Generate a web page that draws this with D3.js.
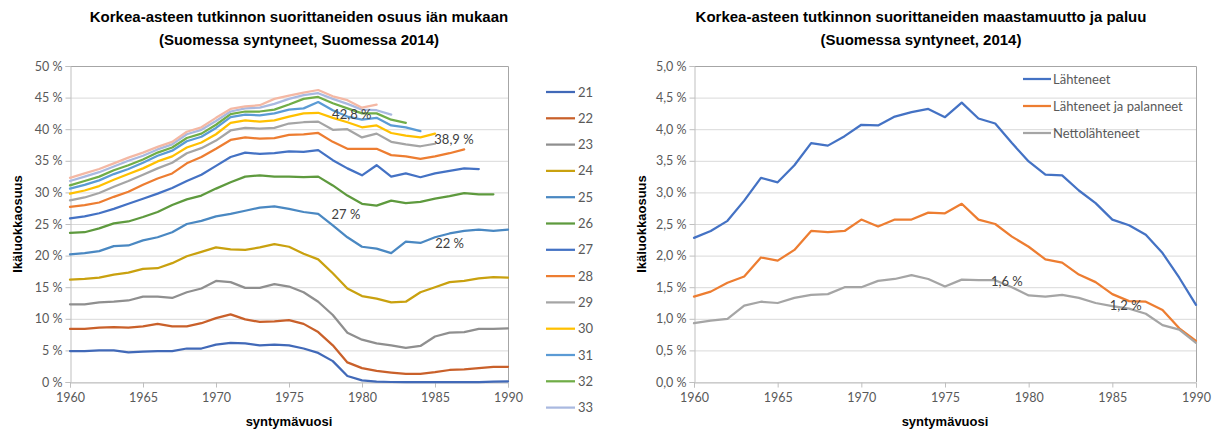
<!DOCTYPE html>
<html>
<head>
<meta charset="utf-8">
<script src="https://cdn.jsdelivr.net/npm/d3@7"></script>
<style>
  body { margin: 0; background: #fff; }
  text { font-family: Lato, "Open Sans", sans-serif; fill: #595959; }
  .title { font-family: "Liberation Sans Narrow", "Liberation Sans", sans-serif; font-weight: bold; fill: #000; font-size: 15px; }
  .axisTitle { font-family: "Liberation Sans Narrow", "Liberation Sans", sans-serif; font-weight: bold; fill: #000; font-size: 13px; }
  .tick text { font-size: 12.5px; fill: #595959; }
  .note { font-size: 13px; fill: #404040; }
  .legend text { font-size: 13px; fill: #595959; }
</style>
</head>
<body>
<div id="chart"></div>
<script>

// first birth year of every series
var firstYear = 1960;

// share of degree holders by age (%), birth years 1960 ->
var ageLabels = ["21", "22", "23", "24", "25", "26", "27", "28", "29", "30", "31", "32", "33", "34"];
var age21 = [4.9, 4.9, 5.0, 5.0, 4.7, 4.8, 4.9, 4.9, 5.3, 5.3, 5.9, 6.2, 6.1, 5.8, 5.9, 5.8, 5.3, 4.6, 3.3, 0.95, 0.25, 0.05, 0.0, 0.0, 0.0, 0.0, 0.0, 0.0, 0.0, 0.05, 0.1];
var age22 = [8.4, 8.4, 8.6, 8.7, 8.6, 8.8, 9.2, 8.8, 8.8, 9.3, 10.1, 10.7, 9.9, 9.5, 9.6, 9.8, 9.2, 7.9, 5.8, 3.1, 2.2, 1.75, 1.5, 1.3, 1.3, 1.55, 1.9, 2.0, 2.2, 2.4, 2.4];
var age23 = [12.3, 12.3, 12.6, 12.7, 12.9, 13.5, 13.5, 13.3, 14.2, 14.8, 16.0, 15.8, 14.9, 14.9, 15.5, 15.1, 14.2, 12.7, 10.6, 7.8, 6.7, 6.1, 5.8, 5.4, 5.7, 7.2, 7.8, 7.9, 8.4, 8.4, 8.5];
var age24 = [16.2, 16.3, 16.5, 17.0, 17.3, 17.9, 18.0, 18.8, 19.9, 20.6, 21.3, 21.0, 20.9, 21.3, 21.8, 21.4, 20.3, 19.4, 17.2, 14.8, 13.6, 13.2, 12.6, 12.7, 14.2, 15.0, 15.8, 16.0, 16.4, 16.6, 16.5];
var age25 = [20.2, 20.4, 20.7, 21.5, 21.6, 22.4, 22.9, 23.7, 25.0, 25.5, 26.2, 26.6, 27.1, 27.6, 27.8, 27.4, 26.9, 26.6, 24.8, 22.9, 21.4, 21.1, 20.4, 22.2, 22.0, 22.9, 23.5, 23.9, 24.1, 23.9, 24.1];
var age26 = [23.6, 23.7, 24.3, 25.1, 25.4, 26.1, 26.9, 28.0, 28.9, 29.5, 30.6, 31.6, 32.5, 32.7, 32.5, 32.5, 32.4, 32.5, 31.1, 29.5, 28.2, 27.9, 28.7, 28.3, 28.5, 29.0, 29.4, 29.9, 29.7, 29.7];
var age27 = [25.9, 26.2, 26.7, 27.4, 28.2, 29.0, 29.8, 30.7, 31.8, 32.8, 34.2, 35.6, 36.3, 36.1, 36.2, 36.5, 36.4, 36.7, 35.1, 33.8, 32.7, 34.3, 32.5, 33.0, 32.4, 33.0, 33.4, 33.8, 33.7];
var age28 = [27.7, 28.0, 28.4, 29.3, 30.1, 31.2, 32.2, 33.0, 34.6, 35.6, 36.9, 38.3, 38.7, 38.5, 38.6, 39.1, 39.2, 39.4, 38.0, 36.9, 36.9, 36.9, 35.9, 35.7, 35.3, 35.7, 36.2, 36.8];
var age29 = [28.75, 29.2, 29.9, 30.9, 31.8, 32.8, 33.8, 34.7, 36.2, 37.0, 38.2, 39.8, 40.2, 40.1, 40.2, 40.9, 41.1, 41.2, 39.9, 40.0, 38.7, 39.3, 38.0, 37.6, 37.3, 37.7];
var age30 = [29.8, 30.3, 31.0, 32.0, 32.9, 33.8, 34.9, 35.7, 37.1, 37.9, 39.2, 41.0, 41.4, 41.2, 41.4, 42.0, 42.5, 42.6, 41.8, 41.1, 40.3, 40.6, 39.4, 39.0, 38.7, 39.3];
var age31 = [30.6, 31.2, 31.9, 32.9, 33.7, 34.7, 35.8, 36.6, 38.1, 38.8, 40.2, 41.9, 42.3, 42.2, 42.5, 43.1, 43.3, 44.3, 43.0, 42.0, 41.5, 41.8, 40.6, 40.3, 39.7];
var age32 = [31.1, 31.8, 32.5, 33.5, 34.3, 35.2, 36.3, 37.1, 38.6, 39.3, 40.7, 42.4, 42.8, 42.8, 43.1, 43.9, 44.8, 45.1, 44.1, 43.3, 42.5, 42.5, 41.5, 41.0];
var age33 = [31.8, 32.5, 33.2, 34.1, 35.0, 35.8, 36.8, 37.6, 39.2, 39.9, 41.3, 42.8, 43.3, 43.4, 44.0, 44.8, 45.4, 45.7, 44.8, 44.0, 43.1, 43.0, 42.3];
var age34 = [32.3, 33.0, 33.7, 34.6, 35.5, 36.3, 37.2, 38.0, 39.6, 40.3, 41.8, 43.2, 43.6, 43.8, 44.8, 45.3, 45.8, 46.2, 45.2, 44.6, 43.4, 43.9];
var ageSeries = [age21, age22, age23, age24, age25, age26, age27, age28, age29, age30, age31, age32, age33, age34];

// emigration and return (%), birth years 1960 - 1990
var moveLabels = ["Lähteneet", "Lähteneet ja palanneet", "Nettolähteneet"];
var lahteneet = [2.28, 2.39, 2.55, 2.87, 3.23, 3.16, 3.43, 3.78, 3.74, 3.89, 4.07, 4.06, 4.20, 4.27, 4.32, 4.19, 4.42, 4.17, 4.09, 3.78, 3.49, 3.28, 3.27, 3.03, 2.83, 2.57, 2.48, 2.33, 2.04, 1.65, 1.22];
var palanneet = [1.35, 1.43, 1.57, 1.67, 1.97, 1.92, 2.09, 2.39, 2.37, 2.39, 2.57, 2.46, 2.57, 2.57, 2.68, 2.67, 2.82, 2.57, 2.50, 2.30, 2.14, 1.94, 1.89, 1.70, 1.58, 1.39, 1.28, 1.27, 1.14, 0.85, 0.65];
var netto = [0.93, 0.97, 1.00, 1.21, 1.27, 1.25, 1.33, 1.38, 1.39, 1.50, 1.50, 1.60, 1.63, 1.69, 1.63, 1.51, 1.62, 1.61, 1.61, 1.50, 1.37, 1.35, 1.38, 1.33, 1.25, 1.20, 1.16, 1.08, 0.90, 0.83, 0.62];
var moveSeries = [lahteneet, palanneet, netto];

// tick values
var yearTicks = [1960, 1965, 1970, 1975, 1980, 1985, 1990];
var shareTicks = [0, 5, 10, 15, 20, 25, 30, 35, 40, 45, 50];
var moveTicks = [0, 0.5, 1, 1.5, 2, 2.5, 3, 3.5, 4, 4.5, 5];

// data labels: text, birth year and value where the label sits
var shareNotes = [["42,8 %", 1979.3, 42.4], ["38,9 %", 1986.3, 38.4], ["27 %", 1978.9, 26.5], ["22 %", 1986.0, 22.0]];
var moveNotes = [["1,6 %", 1978.7, 1.59], ["1,2 %", 1985.8, 1.21]];

// titles
var leftTitle = ["Korkea-asteen tutkinnon suorittaneiden osuus iän mukaan", "(Suomessa syntyneet, Suomessa 2014)"];
var rightTitle = ["Korkea-asteen tutkinnon suorittaneiden maastamuutto ja paluu", "(Suomessa syntyneet, 2014)"];

// colours
var ageColors = ["#4169b8", "#c9602a", "#8f8f8f", "#c9a10f", "#4a88c2", "#5e9a3e",
                 "#4472c4", "#ed7d31", "#a5a5a5", "#ffc000", "#5b9bd5", "#70ad47", "#a9b9e0", "#f4b8a4"];
var moveColors = ["#4472c4", "#ed7d31", "#a5a5a5"];

var svg = d3.select("#chart")
    .append("svg")
    .attr("width", 1217)
    .attr("height", 430);

// one panel: frame, grid, axes, lines
function drawPanel(opts) {
    var x = d3.scaleLinear().domain([1960, 1990]).range([opts.left, opts.right]);
    var y = d3.scaleLinear().domain([0, opts.max]).range([opts.bottom, opts.top]);

    var g = svg.append("g");

    // gridlines
    g.selectAll(".grid")
        .data(opts.ticks)
        .enter()
        .append("line")
        .attr("x1", opts.left)
        .attr("x2", opts.right)
        .attr("y1", d => y(d) + 0.5)
        .attr("y2", d => y(d) + 0.5)
        .attr("stroke", "#d9d9d9")
        .attr("stroke-width", 1);

    // plot area border (top and right)
    g.append("path")
        .attr("d", `M${opts.left},${opts.top + 0.5}H${opts.right + 0.5}V${opts.bottom}`)
        .attr("fill", "none")
        .attr("stroke", "#a6a6a6");

    // axes
    var bottomAxis = d3.axisBottom(x).tickValues(yearTicks).tickFormat(d3.format("d")).tickSize(5).tickPadding(6);
    var leftAxis = d3.axisLeft(y).tickValues(opts.ticks).tickFormat(opts.format).tickSize(5).tickPadding(3);

    var xa = g.append("g")
        .attr("transform", `translate(0, ${opts.bottom + 0.5})`)
        .call(bottomAxis);
    var ya = g.append("g")
        .attr("transform", `translate(${opts.left + 0.5}, 0)`)
        .call(leftAxis);
    [xa, ya].forEach(a => {
        a.select(".domain").attr("stroke", "#bfbfbf");
        a.selectAll(".tick line").attr("stroke", "#bfbfbf");
        a.attr("font-family", null).attr("font-size", null);
    });

    // lines
    var line = d3.line()
        .x((d, i) => x(firstYear + i))
        .y(d => y(d));

    g.selectAll(".series")
        .data(opts.series)
        .enter()
        .append("path")
        .attr("d", line)
        .attr("fill", "none")
        .attr("stroke", (d, i) => opts.colors[i])
        .attr("stroke-width", 2.25)
        .attr("stroke-linejoin", "round")
        .attr("stroke-linecap", "round");

    // data labels
    g.selectAll(".note")
        .data(opts.notes)
        .enter()
        .append("text")
        .attr("class", "note")
        .attr("x", d => x(d[1]))
        .attr("y", d => y(d[2]))
        .attr("dy", "0.35em")
        .attr("text-anchor", "middle")
        .text(d => d[0]);

    // titles
    g.selectAll(".title")
        .data(opts.title)
        .enter()
        .append("text")
        .attr("class", "title")
        .attr("x", opts.titleX)
        .attr("y", (d, i) => 22 + i * 23)
        .attr("text-anchor", "middle")
        .text(d => d);

    g.append("text")
        .attr("class", "axisTitle")
        .attr("transform", "rotate(-90)")
        .attr("x", -(opts.top + opts.bottom) / 2)
        .attr("y", opts.left - 48)
        .attr("text-anchor", "middle")
        .text("Ikäluokkaosuus");

    g.append("text")
        .attr("class", "axisTitle")
        .attr("x", (opts.left + opts.right) / 2)
        .attr("y", 426)
        .attr("text-anchor", "middle")
        .text("syntymävuosi");

    return { x: x, y: y };
}

drawPanel({
    left: 70, right: 508, top: 66, bottom: 382, max: 50,
    ticks: shareTicks, format: d => d + " %",
    series: ageSeries, colors: ageColors, notes: shareNotes,
    title: leftTitle, titleX: 299
});

var fmtMove = d => d3.format(".1f")(d).replace(".", ",") + " %";
drawPanel({
    left: 694, right: 1196, top: 66, bottom: 382, max: 5,
    ticks: moveTicks, format: fmtMove,
    series: moveSeries, colors: moveColors, notes: moveNotes,
    title: rightTitle, titleX: 921
});

// legend for ages (only 13 entries fit)
var legendAges = svg.append("g").attr("class", "legend")
    .selectAll("g")
    .data(ageLabels.slice(0, 13))
    .enter()
    .append("g")
    .attr("transform", (d, i) => `translate(546, ${92 + i * 26.3})`);
legendAges.append("line")
    .attr("x1", 0).attr("x2", 29)
    .attr("stroke", (d, i) => ageColors[i])
    .attr("stroke-width", 2.25);
legendAges.append("text")
    .attr("x", 32)
    .attr("dy", "0.35em")
    .text(d => d);

// legend for emigration
var legendMove = svg.append("g").attr("class", "legend")
    .selectAll("g")
    .data(moveLabels)
    .enter()
    .append("g")
    .attr("transform", (d, i) => `translate(1023, ${79 + i * 27})`);
legendMove.append("line")
    .attr("x1", 0).attr("x2", 28)
    .attr("stroke", (d, i) => moveColors[i])
    .attr("stroke-width", 2.25);
legendMove.append("text")
    .attr("x", 30)
    .attr("dy", "0.35em")
    .text(d => d);

</script>
</body>
</html>
